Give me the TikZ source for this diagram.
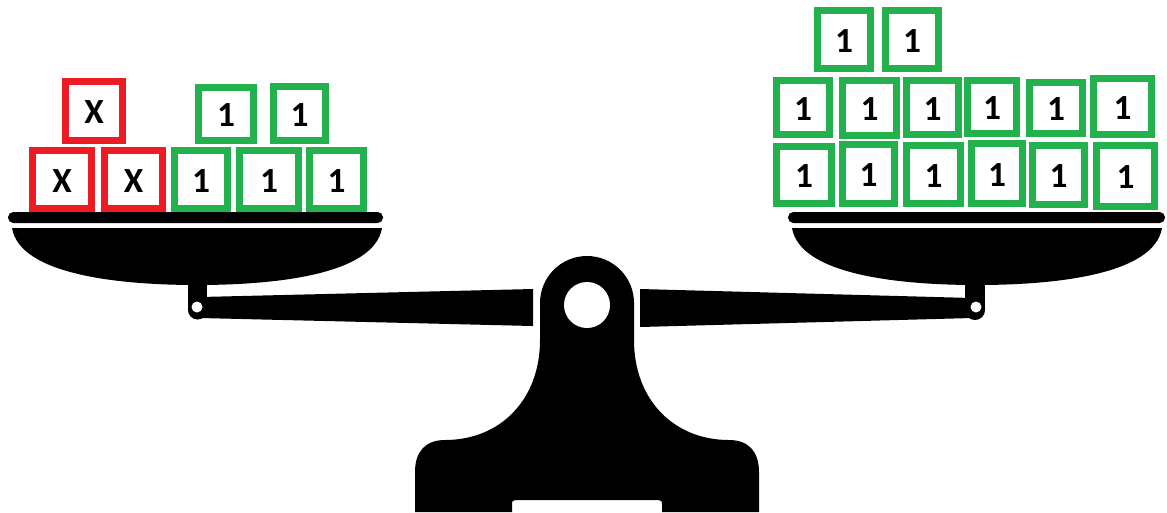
\documentclass[tikz,border=0pt]{standalone}
\usepackage{fontspec}
\setmainfont{Carlito}
\definecolor{pred}{RGB}{237,28,36}
\definecolor{pgreen}{RGB}{34,177,76}
\tikzset{
  blockbox/.style={draw, line width=5.5pt, inner sep=0pt, outer sep=0pt,
    font=\fontsize{26.5}{26.5}\selectfont\bfseries, text=black,
    text height=19.2pt, text depth=0pt},
  ink/.style={fill=black},
  hole/.style={fill=white}
}
% name, x1, y1, x2, y2, colour, text
\newcommand\blk[7]{%
  \pgfmathsetmacro\bw{(#4-#2-7.3)*0.75}%
  \pgfmathsetmacro\bh{(#5-#3-7.3)*0.75}%
  \node[blockbox, draw=#6, minimum width=\bw pt, minimum height=\bh pt]
    (#1) at ({(#2+#4)/2},{(#3+#5)/2}) {#7};}
\begin{document}
\begin{tikzpicture}[x=0.75pt,y=-0.75pt]
\fill[white] (0,0) rectangle (1167,512);
\useasboundingbox (0,0) rectangle (1167,512);

% ---------- left pan ----------
\fill[ink, rounded corners=4pt] (8,212) rectangle (383,223);
\fill[ink] (12,228) -- (382,228) .. controls (374,275) and (274,285) .. (197,285)
  .. controls (120,285) and (20,275) .. (12,228) -- cycle;
\fill[ink] (188,280) rectangle (207,310);
\fill[ink] (197.5,310) circle (9.5);
\fill[ink] (200,297) -- (533,289) -- (533,326) -- (200,318) -- cycle;
\fill[hole] (197,307) circle (5.5);

% ---------- right pan ----------
\fill[ink, rounded corners=4pt] (788,212) rectangle (1165,223);
\fill[ink] (792,228) -- (1162,228) .. controls (1154,275) and (1054,285) .. (977,285)
  .. controls (900,285) and (800,275) .. (792,228) -- cycle;
\fill[ink] (965,280) rectangle (985,310);
\fill[ink] (975,310) circle (10);
\fill[ink] (640,289) -- (972,298) -- (972,318) -- (640,327) -- cycle;
\fill[hole] (976,307) circle (5.5);

% ---------- centre post ----------
\fill[ink] (587,303) circle (47);
\fill[ink] (540,303) -- (540,340) .. controls (540,400) and (500,440) .. (445,440)
  .. controls (425,440) and (415,452) .. (415,472) -- (415,512) -- (512,512)
  -- (512,505) .. controls (512,501) .. (516,500) -- (658,500)
  .. controls (662,501) .. (662,505) -- (662,512) -- (759,512) -- (759,472)
  .. controls (759,452) and (749,440) .. (729,440)
  .. controls (674,440) and (634,400) .. (634,340) -- (634,303) -- cycle;
\fill[hole] (587,305) circle (23);

% ---------- left blocks ----------
\blk{lx1}{62}{78}{126}{144}{pred}{X}
\blk{lx2}{29}{147}{95}{212}{pred}{X}
\blk{lx3}{101}{147}{166}{212}{pred}{X}
\blk{lo1}{171}{147}{231}{212}{pgreen}{1}
\blk{lo2}{236}{147}{302}{212}{pgreen}{1}
\blk{lo3}{306}{147}{367}{212}{pgreen}{1}
\blk{lo4}{195}{84}{257}{144}{pgreen}{1}
\blk{lo5}{270}{83}{329}{144}{pgreen}{1}

% ---------- right blocks ----------
\blk{ra1}{814}{7}{874}{72}{pgreen}{1}
\blk{ra2}{882}{7}{942}{72}{pgreen}{1}
\blk{rb1}{773}{77}{833}{138}{pgreen}{1}
\blk{rb2}{839}{77}{900}{139}{pgreen}{1}
\blk{rb3}{903}{77}{962}{138}{pgreen}{1}
\blk{rb4}{964}{77}{1020}{137}{pgreen}{1}
\blk{rb5}{1026}{79}{1086}{137}{pgreen}{1}
\blk{rb6}{1090}{75}{1155}{138}{pgreen}{1}
\blk{rc1}{773}{143}{835}{207}{pgreen}{1}
\blk{rc2}{839}{141}{898}{207}{pgreen}{1}
\blk{rc3}{903}{142}{964}{207}{pgreen}{1}
\blk{rc4}{968}{140}{1026}{207}{pgreen}{1}
\blk{rc5}{1029}{142}{1088}{208}{pgreen}{1}
\blk{rc6}{1093}{142}{1158}{210}{pgreen}{1}
\end{tikzpicture}
\end{document}
